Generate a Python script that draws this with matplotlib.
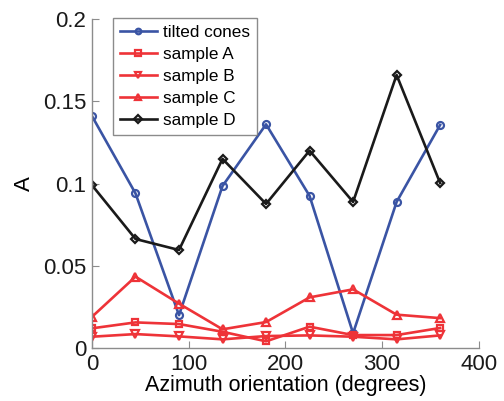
import matplotlib
matplotlib.use("Agg")
import matplotlib.pyplot as plt

plt.rcParams['font.family'] = ['Liberation Sans', 'DejaVu Sans']

azimuth = [0, 45, 90, 135, 180, 225, 270, 315, 360]
tilted_cones = [0.141, 0.094, 0.020, 0.0985, 0.136, 0.0925, 0.009, 0.0888, 0.1356]
sample_a = [0.0120, 0.0156, 0.0146, 0.0099, 0.0041, 0.0130, 0.0079, 0.0079, 0.0122]
sample_b = [0.0069, 0.0085, 0.0071, 0.0053, 0.0073, 0.0077, 0.0069, 0.0053, 0.0077]
sample_c = [0.0190, 0.0434, 0.0270, 0.0114, 0.0158, 0.0308, 0.0357, 0.0203, 0.0182]
sample_d = [0.0990, 0.0663, 0.0596, 0.1150, 0.0876, 0.1200, 0.0888, 0.1660, 0.1003]

x_ticks = [0, 100, 200, 300, 400]
y_ticks = [0, 0.05, 0.1, 0.15, 0.2]
y_tick_labels = ['0', '0.05', '0.1', '0.15', '0.2']

blue = '#3a54a4'
red = '#ee3338'
black = '#1a1a1a'

fig = plt.figure(figsize=(5.04, 4.01), dpi=100)
ax = fig.add_axes([0.1825, 0.132, 0.7675, 0.8206])

lw = 1.9
ms = 5
mew = 1.6
ax.plot(azimuth, tilted_cones, color=blue, marker='o', mfc='none', mew=mew, lw=lw, ms=ms, label='tilted cones')
ax.plot(azimuth, sample_a, color=red, marker='s', mfc='none', mew=mew, lw=lw, ms=ms, label='sample A')
ax.plot(azimuth, sample_b, color=red, marker='v', mfc='none', mew=mew, lw=lw, ms=ms + 1, label='sample B')
ax.plot(azimuth, sample_c, color=red, marker='^', mfc='none', mew=mew, lw=lw, ms=ms + 1, label='sample C')
ax.plot(azimuth, sample_d, color=black, marker='D', mfc='none', mew=mew, lw=lw, ms=ms - 0.5, label='sample D')

ax.set_xlim(0, 400)
ax.set_ylim(0, 0.2)
ax.set_xticks(x_ticks)
ax.set_yticks(y_ticks)
ax.set_yticklabels(y_tick_labels)

for side in ('top', 'right'):
    ax.spines[side].set_visible(False)
for side in ('left', 'bottom'):
    ax.spines[side].set_color('#8c8c8c')
    ax.spines[side].set_linewidth(1.0)
ax.tick_params(direction='in', length=5, color='#8c8c8c', labelsize=16, labelcolor='#1a1a1a', pad=4)

ax.set_xlabel('Azimuth orientation (degrees)', fontsize=15.5, labelpad=0)
ax.set_ylabel('A', fontsize=16, labelpad=6)

leg = ax.legend(loc='upper left', bbox_to_anchor=(0.054, 1.004), fontsize=12.3,
                frameon=True, fancybox=False, edgecolor='#6e6e6e',
                handlelength=2.2, borderpad=0.4, labelspacing=0.42, handletextpad=0.35,
                borderaxespad=0, markerscale=0.8)
leg.get_frame().set_linewidth(1.0)

fig.savefig('out.png', dpi=100)
